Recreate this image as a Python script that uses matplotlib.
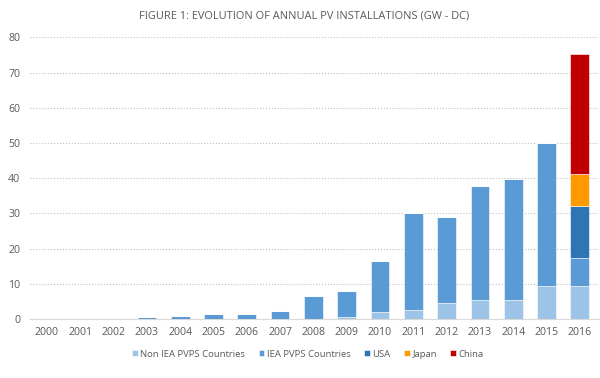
import numpy as np
import matplotlib
matplotlib.use('Agg')
from matplotlib import pyplot as plt

years = [str(y) for y in range(2000, 2017)]
non_iea = [0, 0, 0, 0, 0, 0, 0, 0, 0, 0.6, 1.9, 2.6, 4.5, 5.5, 5.5, 9.4, 9.4]
iea = [0.1, 0.15, 0.35, 0.55, 1.0, 1.4, 1.4, 2.4, 6.5, 7.3, 14.7, 27.5, 24.6, 32.4, 34.2, 40.7, 8.0]
usa = [0] * 16 + [14.8]
japan = [0] * 16 + [9.0]
china = [0] * 16 + [34.0]

series = [
    ('Non IEA PVPS Countries', non_iea, '#9DC3E6'),
    ('IEA PVPS Countries', iea, '#5B9BD5'),
    ('USA', usa, '#2E75B6'),
    ('Japan', japan, '#FF9900'),
    ('China', china, '#C00000'),
]

plt.rcParams['font.family'] = ['Open Sans', 'DejaVu Sans']
grey = '#595959'

fig = plt.figure(figsize=(6, 3.78), dpi=100)
ax = fig.add_axes([0.05, 0.156, 0.948, 0.745])

x = np.arange(len(years))
bottom = np.zeros(len(years))
for name, vals, color in series:
    vals = np.array(vals, dtype=float)
    ax.bar(x, vals, 0.56, bottom=bottom, color=color, label=name,
           edgecolor='white', linewidth=0.4, zorder=3)
    bottom += vals

ax.set_xlim(-0.51, 16.57)
ax.set_ylim(0, 80)
ax.set_yticks(range(0, 81, 10))
ax.set_xticks(x)
ax.set_xticklabels(years)
ax.tick_params(axis='both', length=0, labelsize=7.6, colors=grey)
ax.tick_params(axis='x', pad=6)
ax.tick_params(axis='y', pad=7)
ax.grid(axis='y', ls=':', color='#BFBFBF', lw=0.8, zorder=0)
for s in ['top', 'right', 'left']:
    ax.spines[s].set_visible(False)
ax.spines['bottom'].set_color('#D9D9D9')

fig.text(0.507, 0.958, 'FIGURE 1: EVOLUTION OF ANNUAL PV INSTALLATIONS (GW - DC)',
         ha='center', va='center', fontsize=7.9, color=grey)

leg = fig.legend(loc='center', bbox_to_anchor=(0.513, 0.063), ncol=5, frameon=False,
                 fontsize=6.8, handlelength=0.6, handleheight=0.6, handletextpad=0.3,
                 columnspacing=1.4)
for t in leg.get_texts():
    t.set_color(grey)

fig.savefig('out.png', dpi=100)
